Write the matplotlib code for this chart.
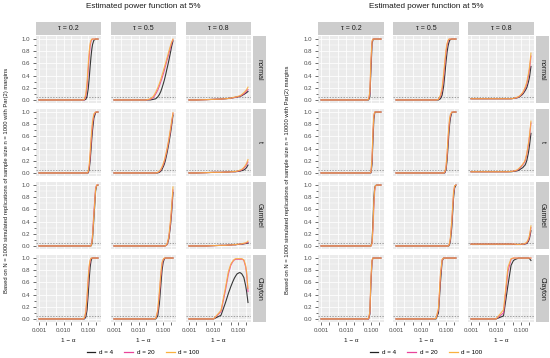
import matplotlib.pyplot as plt
from matplotlib.lines import Line2D

plt.rcParams['font.family'] = ['Liberation Sans', 'DejaVu Sans']

# 1 - alpha grid (log axis)
alpha = [0.001, 0.002, 0.005, 0.01, 0.02, 0.03, 0.04, 0.05, 0.06, 0.07, 0.08,
         0.09, 0.10, 0.11, 0.12, 0.13, 0.14, 0.15, 0.17, 0.20, 0.22, 0.25]

d_labels = ["d = 4", "d = 20", "d = 100"]
d_colors = ["#222222", "#E8449A", "#F9B13F"]
taus = ["\u03c4 = 0.2", "\u03c4 = 0.5", "\u03c4 = 0.8"]
families = ["normal", "t", "Gumbel", "Clayton"]
x_ticks = [0.001, 0.002, 0.005, 0.01, 0.02, 0.05, 0.1, 0.2]
x_ticklabels = ["0.001", "", "", "0.010", "", "", "0.100", ""]
y_ticks = [0.0, 0.2, 0.4, 0.6, 0.8, 1.0]

# ---- n = 1000 (left) : each entry is [d=4, d=20, d=100]
L_normal_02 = [[0, 0, 0, 0, 0, 0, 0, 0, 0, 0, 0.01, 0.06, 0.18, 0.36, 0.55, 0.71, 0.83, 0.91, 0.98, 1, 1, 1],
               [0, 0, 0, 0, 0, 0, 0, 0, 0, 0, 0.06, 0.22, 0.48, 0.72, 0.88, 0.96, 0.99, 1, 1, 1, 1, 1],
               [0, 0, 0, 0, 0, 0, 0, 0, 0, 0.01, 0.1, 0.3, 0.58, 0.8, 0.93, 0.98, 1, 1, 1, 1, 1, 1]]
L_normal_05 = [[0, 0, 0, 0, 0, 0, 0.01, 0.02, 0.05, 0.09, 0.14, 0.2, 0.26, 0.32, 0.38, 0.44, 0.5, 0.55, 0.65, 0.79, 0.88, 0.97],
               [0, 0, 0, 0, 0, 0.01, 0.04, 0.1, 0.16, 0.23, 0.3, 0.36, 0.42, 0.48, 0.54, 0.59, 0.64, 0.68, 0.76, 0.87, 0.93, 0.99],
               [0, 0, 0, 0, 0, 0.02, 0.06, 0.13, 0.2, 0.27, 0.34, 0.41, 0.47, 0.53, 0.58, 0.63, 0.68, 0.72, 0.8, 0.9, 0.95, 1]]
L_normal_08 = [[0, 0, 0.005, 0.01, 0.015, 0.02, 0.025, 0.03, 0.035, 0.04, 0.045, 0.05, 0.05, 0.055, 0.06, 0.065, 0.07, 0.08, 0.09, 0.11, 0.12, 0.14],
               [0, 0, 0.005, 0.01, 0.015, 0.02, 0.025, 0.03, 0.035, 0.04, 0.045, 0.05, 0.055, 0.06, 0.065, 0.07, 0.08, 0.09, 0.1, 0.13, 0.15, 0.17],
               [0, 0, 0.005, 0.01, 0.015, 0.02, 0.025, 0.03, 0.04, 0.045, 0.05, 0.055, 0.06, 0.065, 0.07, 0.08, 0.09, 0.1, 0.12, 0.15, 0.17, 0.21]]
L_t_02 = [[0, 0, 0, 0, 0, 0, 0, 0, 0, 0, 0, 0, 0, 0.06, 0.2, 0.38, 0.56, 0.7, 0.9, 0.99, 1, 1],
          [0, 0, 0, 0, 0, 0, 0, 0, 0, 0, 0, 0, 0.01, 0.1, 0.28, 0.48, 0.66, 0.8, 0.95, 1, 1, 1],
          [0, 0, 0, 0, 0, 0, 0, 0, 0, 0, 0, 0, 0.02, 0.14, 0.34, 0.55, 0.72, 0.85, 0.97, 1, 1, 1]]
L_t_05 = [[0, 0, 0, 0, 0, 0, 0, 0, 0, 0.01, 0.03, 0.06, 0.1, 0.14, 0.19, 0.25, 0.31, 0.37, 0.49, 0.66, 0.78, 0.95],
          [0, 0, 0, 0, 0, 0, 0, 0, 0.01, 0.02, 0.05, 0.09, 0.13, 0.18, 0.24, 0.3, 0.36, 0.42, 0.54, 0.71, 0.82, 0.98],
          [0, 0, 0, 0, 0, 0, 0, 0, 0.01, 0.03, 0.06, 0.1, 0.15, 0.2, 0.26, 0.32, 0.38, 0.44, 0.56, 0.74, 0.85, 0.99]]
L_t_08 = [[0, 0, 0.005, 0.01, 0.01, 0.015, 0.015, 0.02, 0.02, 0.02, 0.02, 0.025, 0.025, 0.03, 0.03, 0.035, 0.04, 0.04, 0.05, 0.07, 0.09, 0.13],
          [0, 0, 0.005, 0.01, 0.01, 0.015, 0.015, 0.02, 0.02, 0.02, 0.025, 0.025, 0.03, 0.035, 0.04, 0.045, 0.05, 0.06, 0.08, 0.11, 0.14, 0.18],
          [0, 0, 0.005, 0.01, 0.01, 0.015, 0.015, 0.02, 0.02, 0.025, 0.025, 0.03, 0.035, 0.04, 0.05, 0.05, 0.06, 0.07, 0.09, 0.13, 0.16, 0.22]]
L_gumbel_02 = [[0, 0, 0, 0, 0, 0, 0, 0, 0, 0, 0, 0, 0, 0, 0, 0, 0.03, 0.12, 0.45, 0.9, 0.99, 1],
               [0, 0, 0, 0, 0, 0, 0, 0, 0, 0, 0, 0, 0, 0, 0, 0.01, 0.06, 0.18, 0.55, 0.95, 1, 1],
               [0, 0, 0, 0, 0, 0, 0, 0, 0, 0, 0, 0, 0, 0, 0, 0, 0.04, 0.15, 0.5, 0.93, 1, 1]]
L_gumbel_05 = [[0, 0, 0, 0, 0, 0, 0, 0, 0, 0, 0, 0, 0, 0, 0, 0.01, 0.02, 0.04, 0.12, 0.35, 0.55, 0.88],
               [0, 0, 0, 0, 0, 0, 0, 0, 0, 0, 0, 0, 0, 0, 0, 0.01, 0.02, 0.05, 0.14, 0.4, 0.6, 0.92],
               [0, 0, 0, 0, 0, 0, 0, 0, 0, 0, 0, 0, 0, 0, 0, 0.01, 0.03, 0.06, 0.16, 0.44, 0.65, 0.97]]
L_gumbel_08 = [[0, 0, 0, 0.005, 0.01, 0.01, 0.015, 0.015, 0.02, 0.02, 0.02, 0.025, 0.025, 0.025, 0.03, 0.03, 0.03, 0.03, 0.035, 0.04, 0.04, 0.05],
               [0, 0, 0, 0.005, 0.01, 0.01, 0.015, 0.015, 0.02, 0.02, 0.02, 0.025, 0.025, 0.03, 0.03, 0.03, 0.035, 0.035, 0.04, 0.045, 0.05, 0.06],
               [0, 0, 0, 0.005, 0.01, 0.01, 0.015, 0.015, 0.02, 0.02, 0.025, 0.025, 0.03, 0.03, 0.03, 0.035, 0.035, 0.04, 0.045, 0.05, 0.06, 0.08]]
L_clayton_02 = [[0, 0, 0, 0, 0, 0, 0, 0, 0, 0, 0.03, 0.15, 0.4, 0.66, 0.85, 0.95, 0.99, 1, 1, 1, 1, 1],
                [0, 0, 0, 0, 0, 0, 0, 0, 0, 0.01, 0.1, 0.33, 0.62, 0.84, 0.95, 0.99, 1, 1, 1, 1, 1, 1],
                [0, 0, 0, 0, 0, 0, 0, 0, 0, 0.02, 0.12, 0.38, 0.68, 0.88, 0.97, 1, 1, 1, 1, 1, 1, 1]]
L_clayton_05 = [[0, 0, 0, 0, 0, 0, 0, 0, 0.05, 0.25, 0.55, 0.8, 0.93, 0.98, 1, 1, 1, 1, 1, 1, 1, 1],
                [0, 0, 0, 0, 0, 0, 0, 0.01, 0.12, 0.4, 0.7, 0.9, 0.97, 0.99, 1, 1, 1, 1, 1, 1, 1, 1],
                [0, 0, 0, 0, 0, 0, 0, 0.01, 0.15, 0.45, 0.75, 0.93, 0.98, 1, 1, 1, 1, 1, 1, 1, 1, 1]]
L_clayton_08 = [[0, 0, 0, 0, 0.06, 0.26, 0.42, 0.53, 0.61, 0.67, 0.71, 0.74, 0.75, 0.76, 0.76, 0.75, 0.74, 0.72, 0.68, 0.55, 0.45, 0.27],
                [0, 0, 0, 0, 0.12, 0.46, 0.74, 0.88, 0.94, 0.97, 0.98, 0.98, 0.98, 0.98, 0.98, 0.98, 0.98, 0.98, 0.96, 0.86, 0.74, 0.45],
                [0, 0, 0, 0, 0.14, 0.5, 0.78, 0.9, 0.95, 0.98, 0.99, 0.99, 0.99, 0.99, 0.99, 0.99, 0.99, 0.98, 0.97, 0.88, 0.77, 0.5]]

# ---- n = 10000 (right)
R_normal_02 = [[0, 0, 0, 0, 0, 0, 0, 0, 0, 0, 0, 0.05, 0.5, 0.92, 0.99, 1, 1, 1, 1, 1, 1, 1],
               [0, 0, 0, 0, 0, 0, 0, 0, 0, 0, 0.01, 0.1, 0.62, 0.96, 1, 1, 1, 1, 1, 1, 1, 1],
               [0, 0, 0, 0, 0, 0, 0, 0, 0, 0, 0.01, 0.14, 0.68, 0.97, 1, 1, 1, 1, 1, 1, 1, 1]]
R_normal_05 = [[0, 0, 0, 0, 0, 0, 0, 0, 0.02, 0.08, 0.22, 0.42, 0.62, 0.78, 0.88, 0.94, 0.98, 0.99, 1, 1, 1, 1],
               [0, 0, 0, 0, 0, 0, 0, 0.01, 0.06, 0.16, 0.36, 0.58, 0.77, 0.9, 0.96, 0.99, 1, 1, 1, 1, 1, 1],
               [0, 0, 0, 0, 0, 0, 0, 0.01, 0.08, 0.2, 0.42, 0.64, 0.82, 0.93, 0.98, 1, 1, 1, 1, 1, 1, 1]]
R_normal_08 = [[0.02, 0.02, 0.02, 0.02, 0.02, 0.02, 0.02, 0.025, 0.03, 0.035, 0.045, 0.055, 0.07, 0.085, 0.1, 0.12, 0.14, 0.16, 0.2, 0.3, 0.38, 0.55],
               [0.02, 0.02, 0.02, 0.02, 0.02, 0.02, 0.02, 0.025, 0.03, 0.04, 0.05, 0.065, 0.08, 0.1, 0.12, 0.145, 0.17, 0.2, 0.26, 0.4, 0.5, 0.72],
               [0.02, 0.02, 0.02, 0.02, 0.02, 0.02, 0.02, 0.025, 0.035, 0.045, 0.055, 0.07, 0.09, 0.11, 0.13, 0.16, 0.19, 0.22, 0.29, 0.44, 0.55, 0.77]]
R_t_02 = [[0, 0, 0, 0, 0, 0, 0, 0, 0, 0, 0, 0, 0, 0.15, 0.55, 0.88, 0.98, 1, 1, 1, 1, 1],
          [0, 0, 0, 0, 0, 0, 0, 0, 0, 0, 0, 0, 0.01, 0.22, 0.66, 0.93, 1, 1, 1, 1, 1, 1],
          [0, 0, 0, 0, 0, 0, 0, 0, 0, 0, 0, 0, 0.02, 0.26, 0.7, 0.95, 1, 1, 1, 1, 1, 1]]
R_t_05 = [[0, 0, 0, 0, 0, 0, 0, 0, 0, 0, 0, 0, 0.05, 0.2, 0.42, 0.64, 0.8, 0.9, 0.99, 1, 1, 1],
          [0, 0, 0, 0, 0, 0, 0, 0, 0, 0, 0, 0.01, 0.08, 0.28, 0.52, 0.73, 0.87, 0.94, 1, 1, 1, 1],
          [0, 0, 0, 0, 0, 0, 0, 0, 0, 0, 0, 0.02, 0.1, 0.32, 0.57, 0.77, 0.9, 0.96, 1, 1, 1, 1]]
R_t_08 = [[0.02, 0.02, 0.02, 0.02, 0.02, 0.02, 0.02, 0.025, 0.03, 0.035, 0.045, 0.055, 0.07, 0.08, 0.09, 0.11, 0.12, 0.14, 0.2, 0.34, 0.46, 0.65],
          [0.02, 0.02, 0.02, 0.02, 0.02, 0.02, 0.025, 0.03, 0.035, 0.045, 0.06, 0.08, 0.1, 0.12, 0.14, 0.16, 0.18, 0.21, 0.3, 0.47, 0.6, 0.82],
          [0.02, 0.02, 0.02, 0.02, 0.02, 0.02, 0.025, 0.03, 0.04, 0.05, 0.07, 0.09, 0.11, 0.13, 0.15, 0.17, 0.19, 0.23, 0.32, 0.5, 0.63, 0.85]]
R_gumbel_02 = [[0, 0, 0, 0, 0, 0, 0, 0, 0, 0, 0, 0, 0, 0.08, 0.4, 0.78, 0.95, 0.99, 1, 1, 1, 1],
               [0, 0, 0, 0, 0, 0, 0, 0, 0, 0, 0, 0, 0, 0.04, 0.28, 0.65, 0.9, 0.98, 1, 1, 1, 1],
               [0, 0, 0, 0, 0, 0, 0, 0, 0, 0, 0, 0, 0, 0.05, 0.33, 0.72, 0.93, 0.99, 1, 1, 1, 1]]
R_gumbel_05 = [[0, 0, 0, 0, 0, 0, 0, 0, 0, 0, 0, 0, 0, 0, 0, 0, 0.03, 0.08, 0.3, 0.78, 0.95, 1],
               [0, 0, 0, 0, 0, 0, 0, 0, 0, 0, 0, 0, 0, 0, 0, 0.01, 0.05, 0.12, 0.38, 0.85, 0.98, 1],
               [0, 0, 0, 0, 0, 0, 0, 0, 0, 0, 0, 0, 0, 0, 0, 0.01, 0.06, 0.14, 0.42, 0.88, 0.99, 1]]
R_gumbel_08 = [[0.03, 0.03, 0.03, 0.03, 0.03, 0.03, 0.03, 0.025, 0.025, 0.025, 0.025, 0.025, 0.025, 0.03, 0.03, 0.03, 0.03, 0.035, 0.04, 0.08, 0.13, 0.25],
               [0.03, 0.03, 0.03, 0.03, 0.03, 0.03, 0.03, 0.03, 0.025, 0.025, 0.025, 0.025, 0.025, 0.03, 0.03, 0.03, 0.035, 0.04, 0.05, 0.1, 0.15, 0.3],
               [0.03, 0.03, 0.03, 0.03, 0.03, 0.03, 0.03, 0.03, 0.03, 0.025, 0.025, 0.025, 0.03, 0.03, 0.03, 0.035, 0.04, 0.045, 0.06, 0.12, 0.18, 0.33]]
R_clayton_02 = [[0, 0, 0, 0, 0, 0, 0, 0, 0, 0, 0, 0.08, 0.6, 0.95, 1, 1, 1, 1, 1, 1, 1, 1],
                [0, 0, 0, 0, 0, 0, 0, 0, 0, 0, 0, 0.1, 0.65, 0.96, 1, 1, 1, 1, 1, 1, 1, 1],
                [0, 0, 0, 0, 0, 0, 0, 0, 0, 0, 0.01, 0.12, 0.7, 0.97, 1, 1, 1, 1, 1, 1, 1, 1]]
R_clayton_05 = [[0, 0, 0, 0, 0, 0, 0, 0.1, 0.6, 0.95, 1, 1, 1, 1, 1, 1, 1, 1, 1, 1, 1, 1],
                [0, 0, 0, 0, 0, 0, 0.01, 0.15, 0.7, 0.97, 1, 1, 1, 1, 1, 1, 1, 1, 1, 1, 1, 1],
                [0, 0, 0, 0, 0, 0, 0.01, 0.18, 0.74, 0.98, 1, 1, 1, 1, 1, 1, 1, 1, 1, 1, 1, 1]]
R_clayton_08 = [[0, 0, 0, 0, 0.05, 0.55, 0.88, 0.96, 0.98, 0.99, 1, 1, 1, 1, 1, 1, 1, 1, 1, 1, 0.99, 0.96],
                [0, 0, 0, 0, 0.1, 0.78, 0.98, 1, 1, 1, 1, 1, 1, 1, 1, 1, 1, 1, 1, 1, 1, 1],
                [0, 0, 0, 0, 0.15, 0.85, 0.99, 1, 1, 1, 1, 1, 1, 1, 1, 1, 1, 1, 1, 1, 1, 1]]

left_grid = [[L_normal_02, L_normal_05, L_normal_08],
             [L_t_02, L_t_05, L_t_08],
             [L_gumbel_02, L_gumbel_05, L_gumbel_08],
             [L_clayton_02, L_clayton_05, L_clayton_08]]
right_grid = [[R_normal_02, R_normal_05, R_normal_08],
              [R_t_02, R_t_05, R_t_08],
              [R_gumbel_02, R_gumbel_05, R_gumbel_08],
              [R_clayton_02, R_clayton_05, R_clayton_08]]

W, H = 550, 358
fig = plt.figure(figsize=(W / 100, H / 100), dpi=100)


def px_rect(x, y, w, h):
    return [x / W, 1 - (y + h) / H, w / W, h / H]


blocks = [
    dict(grid=left_grid, x0=36, pw=65, cx=143, ylab_x=7,
         ylab="Based on N = 1000 simulated replications of sample size n = 1000 with Par(2) margins"),
    dict(grid=right_grid, x0=318, pw=66, cx=426, ylab_x=288,
         ylab="Based on N = 1000 simulated replications of sample size n = 10000 with Par(2) margins"),
]

row_top0, row_step, ph = 36, 73, 67
col_step = 75
strip_bg = "#CDCDCD"

for b in blocks:
    fig.text(b["cx"] / W, 1 - 7 / H, "Estimated power function at 5%",
             ha="center", va="center", fontsize=5.9, color="#1A1A1A")
    fig.text(b["ylab_x"] / W, 1 - 180 / H, b["ylab"], rotation=90,
             ha="center", va="center", fontsize=4.2, color="#1A1A1A")
    for j in range(3):
        x = b["x0"] + j * col_step
        sa = fig.add_axes(px_rect(x, 22, b["pw"], 13))
        sa.set_facecolor(strip_bg)
        sa.set_xticks([]); sa.set_yticks([])
        for s in sa.spines.values():
            s.set_visible(False)
        sa.text(0.5, 0.5, taus[j], ha="center", va="center", fontsize=5,
                color="#1A1A1A", transform=sa.transAxes)
        fig.text((x + b["pw"] / 2) / W, 1 - 341 / H, "1 \u2212 \u03b1",
                 ha="center", va="center", fontsize=4.6, color="#1A1A1A")
    sx = b["x0"] + 2 * col_step + b["pw"] + 2
    for i in range(4):
        y = row_top0 + i * row_step
        ra = fig.add_axes(px_rect(sx, y, 13, ph))
        ra.set_facecolor(strip_bg)
        ra.set_xticks([]); ra.set_yticks([])
        for s in ra.spines.values():
            s.set_visible(False)
        ra.text(0.5, 0.5, families[i], ha="center", va="center", fontsize=5,
                rotation=270, color="#1A1A1A", transform=ra.transAxes)
        for j in range(3):
            x = b["x0"] + j * col_step
            ax = fig.add_axes(px_rect(x, y, b["pw"], ph))
            ax.set_facecolor("#EBEBEB")
            ax.set_xscale("log")
            ax.set_xlim(10 ** -3.12, 10 ** -0.48)
            ax.set_ylim(-0.05, 1.05)
            for s in ax.spines.values():
                s.set_visible(False)
            ax.set_xticks(x_ticks)
            ax.xaxis.set_minor_locator(plt.NullLocator())
            ax.set_yticks(y_ticks)
            ax.set_yticks([0.1, 0.3, 0.5, 0.7, 0.9], minor=True)
            ax.grid(True, which="major", color="white", lw=0.55)
            ax.grid(True, which="minor", axis="y", color="white", lw=0.3)
            ax.set_axisbelow(True)
            ax.tick_params(which="both", direction="out", width=0.5, color="#333333",
                           labelsize=4.4, labelcolor="#4D4D4D", pad=1.5)
            ax.tick_params(which="major", length=2.5)
            ax.tick_params(which="minor", length=1.2)
            if i == 3:
                ax.set_xticklabels(x_ticklabels)
            else:
                ax.tick_params(axis="x", which="both", length=0, labelbottom=False)
            if j == 0:
                ax.set_yticklabels([f"{v:.1f}" for v in y_ticks])
            else:
                ax.tick_params(axis="y", which="both", length=0, labelleft=False)
            ax.axhline(0.05, color="#7F7F7F", lw=0.5, ls=(0, (2, 2)))
            for k, vals in enumerate(b["grid"][i][j]):
                ax.plot(alpha, vals, color=d_colors[k], lw=0.8, alpha=0.9)

    handles = [Line2D([0], [0], color=c, lw=0.9) for c in d_colors]
    fig.legend(handles, d_labels, loc="center", bbox_to_anchor=(b["cx"] / W, 1 - 352 / H),
               ncol=3, frameon=False, fontsize=4.5, handlelength=1.4,
               handletextpad=0.6, columnspacing=1.8, borderaxespad=0)

fig.savefig("out.png", dpi=100)
